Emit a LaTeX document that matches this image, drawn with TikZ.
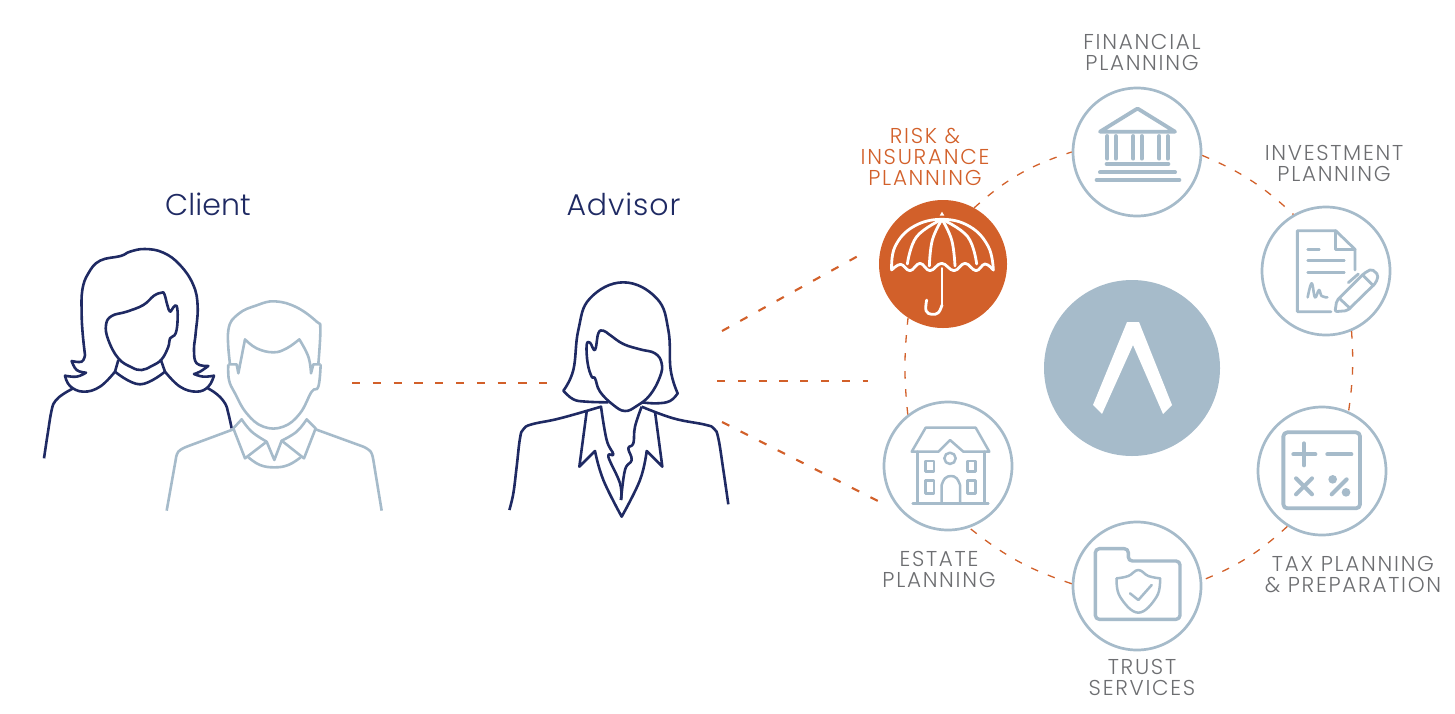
\documentclass[tikz,border=0pt]{standalone}
\usepackage{fontspec}
\setmainfont{Poppins}[UprightFont=* Light]
\definecolor{navy}{HTML}{1F2A63}
\definecolor{mist}{HTML}{A6BBCA}
\definecolor{rust}{HTML}{D2602A}
\definecolor{slate}{HTML}{6D6E71}
\tikzset{
  zoomed/.style 2 args={shift={(#1,#2)},x=0.33333pt,y=-0.33333pt},
  sm/.style={smooth,tension=.7},
  smc/.style={smooth cycle,tension=.7},
  womanline/.style={draw=navy,line width=2.6pt,line join=round},
  manline/.style={draw=mist,line width=2.6pt,line join=round},
  icon/.style={draw=mist,line width=#1,line join=round,line cap=round},
  icon/.default=2.6pt,
  disc/.style={circle,draw=mist,line width=2.7pt,minimum size=128pt,inner sep=0pt,fill=white},
  link/.style={draw=rust,line width=2.1pt,dash pattern=on 8.2pt off 12.6pt},
  ring/.style={draw=rust,line width=1.3pt,dash pattern=on 7.5pt off 10.5pt},
  lab/.style={font=\fontsize{21.5}{21}\selectfont\addfontfeatures{LetterSpace=8},text=slate,align=center,inner sep=0pt},
  title/.style={font=\fontsize{30}{30}\selectfont\addfontfeatures{LetterSpace=#1},text=navy,inner sep=0pt},
}
\begin{document}
\begin{tikzpicture}[x=1pt,y=-1pt]
\useasboundingbox (0,0) rectangle (1455,713);

% ring nodes
\node[disc] (fin) at (1137,152) {};
\node[disc] (inv) at (1326,271) {};
\node[disc] (tax) at (1322,471) {};
\node[disc] (tru) at (1137,586) {};
\node[disc] (est) at (948,466) {};
\node[circle,fill=rust,minimum size=128pt,inner sep=0pt] (risk) at (943,264) {};
\node[circle,fill=mist,minimum size=176pt,inner sep=0pt] (core) at (1132,368) {};

% ring connectors
\draw[ring] (risk.61) to[bend left=12] (fin.180);
\draw[ring] (fin.-3) to[bend left=10] (inv.120);
\draw[ring] (inv.-67) to[bend left=6] (tax.66);
\draw[ring] (tax.-122) to[bend left=10] (tru.5);
\draw[ring] (tru.178) to[bend left=10] (est.-71);
\draw[ring] (est.128) to[bend left=6] (risk.-123);

% person connectors
\coordinate (cl) at (352,383); \coordinate (ad) at (548,383);
\coordinate (a1) at (722,331); \coordinate (a1e) at (858,256);
\coordinate (a2) at (717,381); \coordinate (a2e) at (868,381);
\coordinate (a3) at (722,422); \coordinate (a3e) at (878,501);
\draw[link] (cl) -- (ad);
\draw[link] (a1) -- (a1e);
\draw[link] (a2) -- (a2e);
\draw[link] (a3) -- (a3e);

% labels
\node[title=0.4] (tclient) at (208,204) {Client};
\node[title=3] (tadvisor) at (623.5,204) {Advisor};
\node[lab] (lfin) at (1142,52) {FINANCIAL\\PLANNING};
\node[lab] (linv) at (1334,163) {INVESTMENT\\PLANNING};
\node[lab,text=rust] (lrisk) at (925,157) {RISK \&\\INSURANCE\\PLANNING};
\node[lab] (ltax) at (1353,575) {TAX PLANNING\\\& PREPARATION};
\node[lab] (ltru) at (1142,677) {TRUST\\SERVICES};
\node[lab] (lest) at (939,569) {ESTATE\\PLANNING};

% client woman
\begin{scope}[zoomed={30}{230}]
\draw[womanline] plot[sm] coordinates {(165,375) (158,310) (155,250) (157,180) (175,130) (210,92) (272,78) (300,65) (345,57) (400,68) (450,105) (490,165) (503,230) (497,310) (492,360) (500,400) (535,408)}
  -- plot[sm] coordinates {(535,408) (510,425) (492,432)}
  -- plot[sm] coordinates {(492,432) (520,440) (552,437)}
  -- plot[sm] coordinates {(552,437) (535,470) (500,485) (450,470) (405,425)}
  -- plot[sm] coordinates {(405,425) (330,463) (255,425)}
  -- plot[sm] coordinates {(255,425) (210,470) (160,485) (120,468) (105,437)}
  -- plot[sm] coordinates {(105,437) (140,440) (168,428)}
  -- plot[sm] coordinates {(168,428) (140,420) (125,393)}
  -- plot[sm] coordinates {(125,393) (155,395) (165,375)};
\draw[womanline] plot[smc] coordinates {(395,188) (372,197) (340,225) (290,245) (245,258) (228,285) (235,330) (265,385) (305,412) (335,420) (365,408) (395,388) (415,350) (420,325) (437,310) (443,265) (440,228) (430,232) (420,245) (412,225) (403,192)};
\draw[womanline] (265,390) -- (255,425) (392,388) -- (405,425);
\draw[womanline] plot[sm] coordinates {(130,475) (100,492) (76,513) (65,540) (53,612) (42,685)};
\draw[womanline] plot[sm] coordinates {(530,473) (560,492) (585,520) (595,550) (605,595)};
\end{scope}

% client man
\begin{scope}[zoomed={30}{230}]
\draw[manline] plot[sm] coordinates {(600,402) (595,300) (625,252) (680,226) (735,214) (800,232) (860,275) (871,297) (865,402)};
\draw[manline] (595,403) -- (620,403) -- (625,430) -- (645,328)
  -- plot[sm] coordinates {(645,328) (680,355) (730,367) (770,355) (808,328)}
  -- plot[sm] coordinates {(808,328) (835,380) (843,430)}
  -- (850,403) -- (872,403);
\draw[manline] plot[sm] coordinates {(595,403) (597,450) (615,490) (650,550) (700,590) (760,590) (810,550) (845,485) (865,470) (872,403)};
\draw[manline] (610,595) -- (635,568)
  -- plot[sm] coordinates {(635,568) (665,605) (710,635)}
  -- (733,690) -- (755,632)
  -- plot[sm] coordinates {(755,632) (800,605) (830,568)}
  -- (857,595) -- (822,685) -- (755,632) (710,635) -- (645,685) -- (610,595);
\draw[manline] plot[sm] coordinates {(655,682) (690,705) (733,712) (775,705) (812,682)};
\draw[manline] (610,598) -- (470,650) -- plot[sm] coordinates {(470,650) (445,665) (437,690)} -- (410,842);
\draw[manline] (857,598) -- (1000,650) -- plot[sm] coordinates {(1000,650) (1022,665) (1030,690)} -- (1055,842);
\end{scope}

% advisor
\begin{scope}[zoomed={500}{270}]
\draw[womanline] plot[sm] coordinates {(325,397) (260,395) (220,388) (190,362)}
  -- plot[sm] coordinates {(190,362) (220,300) (235,180) (270,85) (370,37) (470,85) (505,180) (512,300) (533,370)}
  -- plot[sm] coordinates {(533,370) (510,393) (470,400) (425,397)};
\draw[womanline] plot[smc] coordinates {(310,182) (295,190) (285,240) (270,218) (260,225) (263,280) (275,320) (285,325) (300,365) (340,405) (375,423) (410,408) (450,375) (480,320) (485,280) (465,250) (420,238) (370,222) (330,195)};
\draw[womanline] plot[sm] coordinates {(28,720) (40,670) (50,590) (60,505) (70,478) (95,463) (180,445) (303,410)}
  -- plot[sm] coordinates {(303,410) (320,510) (340,553) (325,560) (360,640) (363,690)};
\draw[womanline] plot[sm] coordinates {(425,410) (405,470) (400,520) (385,535) (395,570) (375,600) (363,690)};
\draw[womanline] plot[sm] coordinates {(425,410) (520,445) (615,464) (642,476) (655,505) (670,600) (685,703)};
\draw[womanline] (260,425) -- (238,590) -- (285,543) -- plot[sm] coordinates {(285,543) (310,630) (365,740)}
  -- plot[sm] coordinates {(365,740) (420,630) (440,543)} -- (487,590) -- (465,425);
\end{scope}

% logo
\fill[white] (1127,322) -- (1139,322) -- (1172,405) -- (1163,414) -- (1133,345) -- (1102,414) -- (1093,405) -- cycle;

% umbrella
\begin{scope}[zoomed={870}{80}]
\fill[white] (216,395) -- (223,407) -- (209,407) -- cycle;
\begin{scope}[line width=2.8pt,draw=white,line join=round,line cap=round]
\draw plot[sm] coordinates {(65,570) (75,500) (130,440) (216,418) (300,440) (355,500) (370,570)};
\draw plot[sm] coordinates {(65,570) (92,553) (120,572) (150,550) (180,572) (215,550) (252,572) (285,550) (318,572) (345,552) (370,570)};
\draw plot[sm] coordinates {(216,418) (140,470) (112,552)};
\draw plot[sm] coordinates {(216,418) (187,480) (178,558)};
\draw plot[sm] coordinates {(216,418) (245,480) (255,558)};
\draw plot[sm] coordinates {(216,418) (293,470) (320,552)};
\draw (216,565) -- (216,675);
\draw plot[sm] coordinates {(216,675) (205,698) (185,703) (168,692) (170,660)};
\end{scope}
\end{scope}

% bank
\begin{scope}[zoomed={870}{80}]
\draw[icon=3.8pt] (690,155) -- (800,87) -- (805,87) -- (915,155) -- cycle;
\foreach \cx in {712,737,790,815,868,893} \draw[icon=3.8pt] (\cx,168) -- (\cx,236);
\draw[icon=4pt] (710,252) -- (895,252);
\draw[icon=4pt] (690,277) -- (915,277);
\draw[icon=4pt] (680,300) -- (928,300);
\end{scope}

% document and pen
\begin{scope}[zoomed={1240}{190}]
\draw[icon=2.8pt] (345,240) -- (345,178) -- (287,122) -- (172,122) -- (172,365) -- (273,365);
\draw[icon=2.8pt] (287,122) -- (287,178) -- (345,178);
\draw[icon=2.6pt] (203,178) -- (238,178) (203,212) -- (313,212) (203,247) -- (313,247);
\draw[icon=2.6pt] plot[sm] coordinates {(203,322) (215,280) (225,322) (237,300) (245,318) (262,322)};
\draw[icon=2.8pt,rounded corners=2pt] (285,365) -- (290,332) -- (372,250) -- (395,237) -- (415,255) -- (408,278) -- (322,362) -- cycle;
\draw[icon=2.8pt] (368,255) -- (400,287) (298,325) -- (330,355) (325,278) -- (355,252);
\end{scope}

% calculator
\begin{scope}[zoomed={1240}{390}]
\draw[icon=3.8pt,rounded corners=4pt] (130,127) rectangle (360,355);
\draw[icon=4pt] (160,193) -- (226,193) (192,160) -- (192,226) (262,193) -- (334,193);
\draw[icon=4pt] (168,265) -- (216,313) (216,265) -- (168,313) (275,313) -- (320,268);
\fill[mist] (278,268) circle (13) (318,307) circle (13);
\end{scope}

% house
\begin{scope}[zoomed={870}{390}]
\draw[icon=2.5pt] (125,185) -- (167,113) -- (317,113) -- (358,185) -- (280,185) -- (240,150) -- (205,185) -- cycle;
\draw[icon=2.5pt] (143,185) -- (143,340) (343,185) -- (343,340) (128,340) -- (355,340);
\draw[icon=2.5pt] (240,205) circle (17);
\draw[icon=2.5pt] (167,213) rectangle (192,245) (293,213) rectangle (317,245) (167,272) rectangle (192,310) (293,272) rectangle (317,310);
\draw[icon=2.5pt] (215,340) -- plot[sm] coordinates {(215,285) (225,265) (243,258) (260,265) (270,285)} -- (270,340);
\end{scope}

% folder and shield
\begin{scope}[zoomed={870}{390}]
\draw[icon=3.4pt,rounded corners=4pt] (676,476) -- (775,476) -- (775,513) -- (930,513) -- (930,688) -- (676,688) -- cycle;
\draw[icon=2.5pt] plot[sm] coordinates {(740,565) (775,558) (805,540) (835,558) (870,565)};
\draw[icon=2.5pt] plot[sm] coordinates {(740,565) (750,620) (805,668) (860,620) (870,565)};
\draw[icon=2.5pt] (780,610) -- (805,630) -- (845,585);
\end{scope}
\end{tikzpicture}
\end{document}
